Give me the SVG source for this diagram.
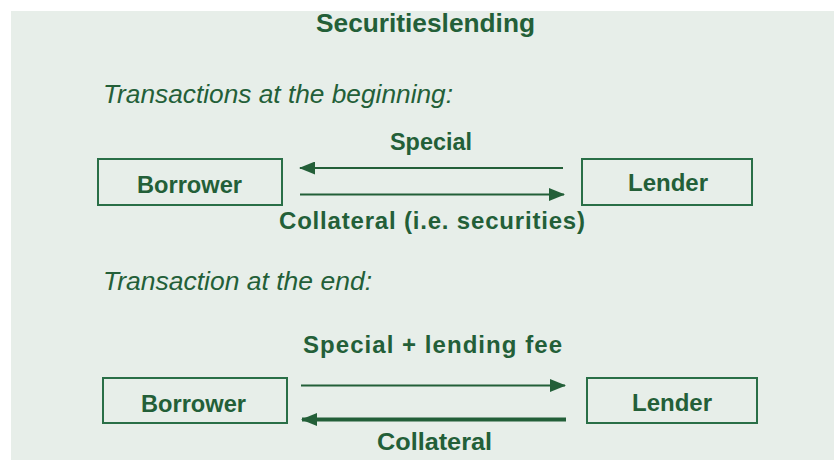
<svg xmlns="http://www.w3.org/2000/svg" width="834" height="460" viewBox="0 0 834 460">
<defs>
<style>
.bg{fill:#e7eee9}
.box{fill:none;stroke:#2a6f47;stroke-width:2}
.t{font-family:"Liberation Sans",Arial,sans-serif;fill:#235f38;font-weight:bold;font-size:24px}
.i{font-family:"Liberation Sans",Arial,sans-serif;fill:#235f38;font-style:italic;font-size:25px}
.c{stroke:#235f38;fill:none}
</style>
<marker id="ah2" viewBox="0 0 16 13" refX="15" refY="6.5" markerWidth="16" markerHeight="13" orient="auto" markerUnits="userSpaceOnUse">
<path d="M0,0 L16,6.5 L0,13 Z" fill="#235f38"/>
</marker>
</defs>
<rect class="bg" x="11" y="11" width="823" height="449"/>
<text class="t" x="316" y="32" style="font-size:25px" textLength="219" lengthAdjust="spacingAndGlyphs">Securitieslending</text>
<text class="i" x="103" y="103" textLength="350" lengthAdjust="spacingAndGlyphs">Transactions at the beginning:</text>
<text class="i" x="103" y="290" textLength="269" lengthAdjust="spacingAndGlyphs">Transaction at the end:</text>
<g id="borrower1"><rect class="box" x="98" y="159" width="184" height="46"/><text class="t" x="137" y="193" textLength="105" lengthAdjust="spacingAndGlyphs">Borrower</text></g>
<g id="lender1"><rect class="box" x="582" y="159" width="170" height="46"/><text class="t" x="628" y="191" textLength="80" lengthAdjust="spacingAndGlyphs">Lender</text></g>
<g id="borrower2"><rect class="box" x="103" y="378" width="184" height="45"/><text class="t" x="141" y="412" textLength="105" lengthAdjust="spacingAndGlyphs">Borrower</text></g>
<g id="lender2"><rect class="box" x="587" y="378" width="170" height="45"/><text class="t" x="632" y="411" textLength="80" lengthAdjust="spacingAndGlyphs">Lender</text></g>
<g id="connectors">
<line class="c" x1="563" y1="168" x2="300" y2="168" stroke-width="2" marker-end="url(#ah2)"/>
<line class="c" x1="300" y1="194.5" x2="564" y2="194.5" stroke-width="2" marker-end="url(#ah2)"/>
<line class="c" x1="301" y1="385.5" x2="565" y2="385.5" stroke-width="2" marker-end="url(#ah2)"/>
<line class="c" x1="566" y1="419.5" x2="302" y2="419.5" stroke-width="4" marker-end="url(#ah2)"/>
<text class="t" x="390" y="150" textLength="82" lengthAdjust="spacingAndGlyphs">Special</text>
<text class="t" x="279" y="229" textLength="306" lengthAdjust="spacing">Collateral (i.e. securities)</text>
<text class="t" x="303" y="353" textLength="259" lengthAdjust="spacing">Special + lending fee</text>
<text class="t" x="377" y="450" textLength="115" lengthAdjust="spacingAndGlyphs">Collateral</text>
</g>
</svg>
